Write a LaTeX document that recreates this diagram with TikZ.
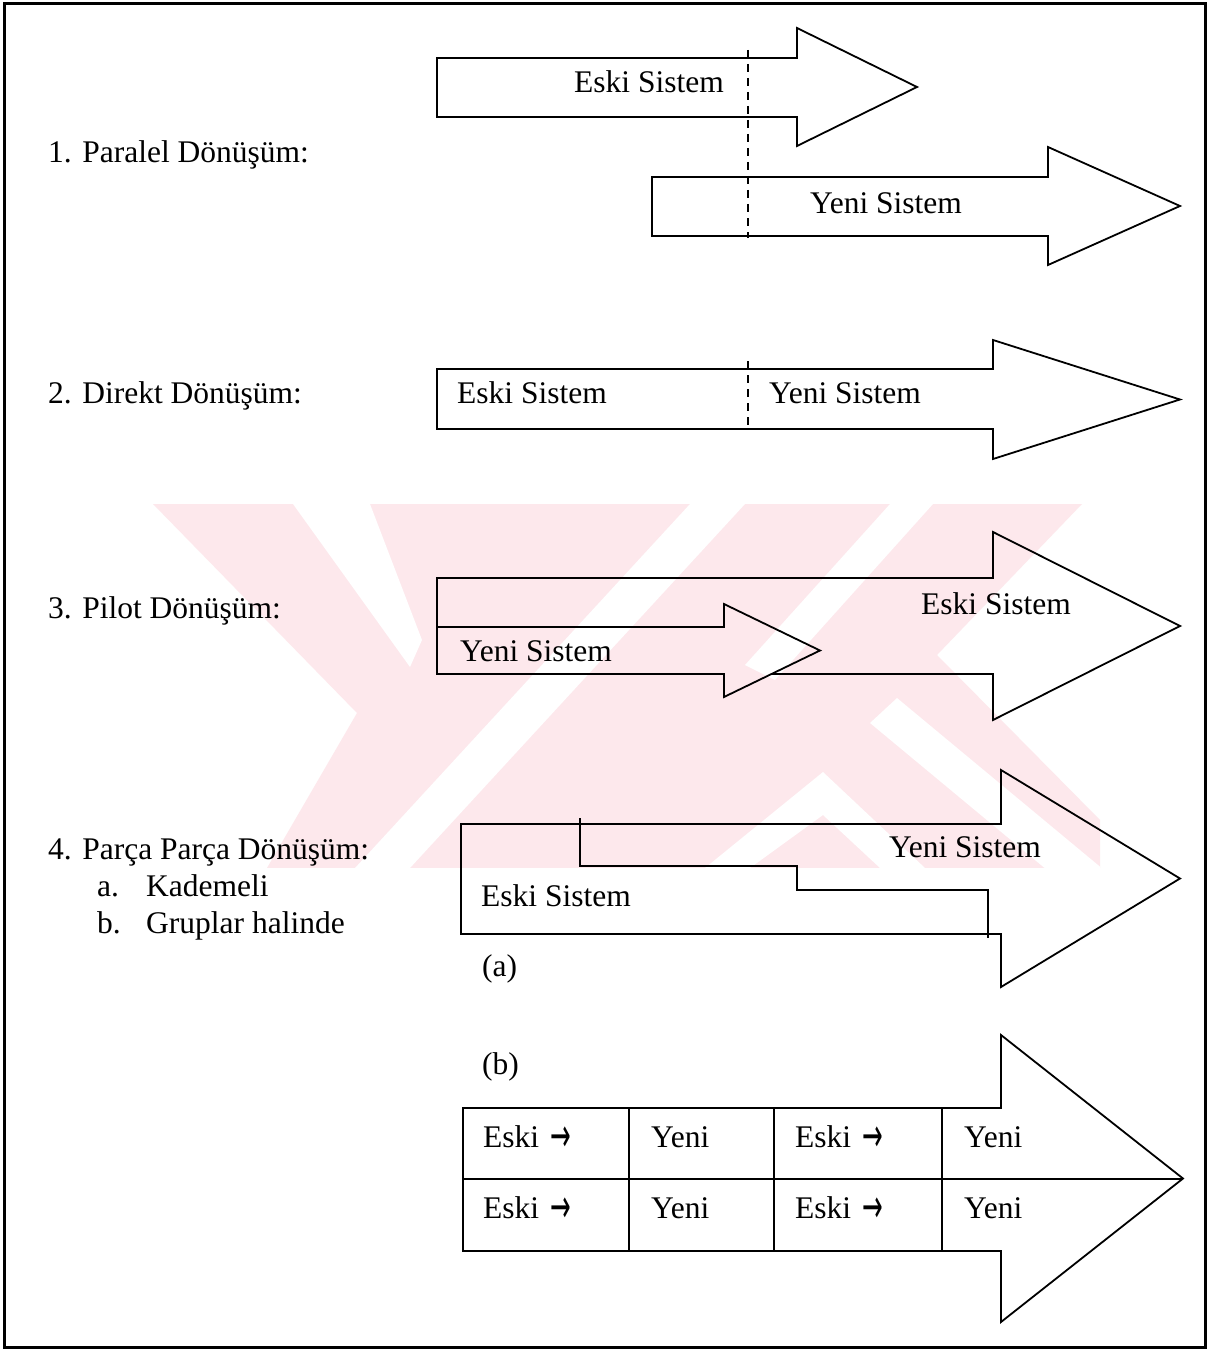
\documentclass[tikz,border=0pt]{standalone}
\usepackage{fontspec}
\usepackage{graphicx}
\setmainfont{Liberation Serif}
\newfontfamily\arrowfont{DejaVu Sans}
\begin{document}
\begin{tikzpicture}[x=1pt,y=-1pt,
  txt/.style={inner sep=0pt, anchor=base west, font=\fontsize{31.5}{36}\selectfont},
  outline/.style={draw=black, line width=1.8pt, line join=miter},
  cut/.style={draw=black, line width=1.8pt, dash pattern=on 8pt off 6pt},
  frameline/.style={draw=black, line width=3pt}]
\definecolor{wmpink}{RGB}{253,232,236}
\newcommand\blockarrow[7]{%
  \draw[outline] (#1,#2) -- (#4,#2) -- (#4,#5) -- (#7,{(#5+#6)/2}) -- (#4,#6) -- (#4,#3) -- (#1,#3) -- cycle;}
\newcommand\arw{\hspace{0.35em}\raisebox{-4.5pt}{\scalebox{0.95}[1.8]{\arrowfont\fontsize{26}{26}\selectfont →}}}

\useasboundingbox (0,0) rectangle (1209,1351);
\fill[white] (0,0) rectangle (1209,1351);

% faint emblem in the background
\begin{scope}
  \clip (153,504) -- (1082,504) -- (937,655) -- (1100,820) -- (1100,868) -- (267,868) -- (357,713) -- cycle;
  \fill[wmpink] (0,504) rectangle (1209,868);
  \fill[white] (293,504) -- (370,504) -- (422,640) -- (410,667) -- cycle;
  \fill[white] (355,868) -- (410,868) -- (745,504) -- (690,504) -- cycle;
  \fill[white] (890,504) -- (933,504) -- (775,680) -- (745,665) -- cycle;
  \fill[white] (897,698) -- (1110,875) -- (1053,875) -- (870,723) -- cycle;
  \fill[white] (705,868) -- (823,772) -- (925,868) -- (880,868) -- (823,815) -- (750,868) -- cycle;
\end{scope}

% outer frame
\draw[frameline] (4,4) rectangle (1205,1347);

% 1. parallel conversion
\node[txt] (l1) at (48,163) {1. Paralel Dönüşüm:};
\blockarrow{437}{58}{117}{797}{28}{146}{917}
\blockarrow{652}{177}{236}{1048}{147}{265}{1180}
\draw[cut] (748,50) -- (748,238);
\node[txt] (p1) at (574,93) {Eski Sistem};
\node[txt] (p2) at (810,213) {Yeni Sistem};

% 2. direct conversion
\node[txt] (l2) at (48,403) {2. Direkt Dönüşüm:};
\blockarrow{437}{369}{429}{993}{340}{459}{1180}
\draw[cut] (748,361) -- (748,429);
\node[txt] (d1) at (457,403) {Eski Sistem};
\node[txt] (d2) at (769,403) {Yeni Sistem};

% 3. pilot conversion
\node[txt] (l3) at (48,618) {3. Pilot Dönüşüm:};
\draw[outline] (771,674) -- (993,674) -- (993,720) -- (1180,626) -- (993,532) -- (993,578)
  -- (437,578) -- (437,674) -- (724,674);
\blockarrow{437}{627}{674}{724}{604}{697}{820}
\node[txt] (s1) at (921,614) {Eski Sistem};
\node[txt] (s2) at (460,661) {Yeni Sistem};

% 4. phased conversion
\node[txt] (l4) at (48,859) {4. Parça Parça Dönüşüm:};
\node[txt] (la) at (97,896) {a.};
\node[txt] (lak) at (146,896) {Kademeli};
\node[txt] (lb) at (97,933) {b.};
\node[txt] (lbg) at (146,933) {Gruplar halinde};

% (a) staged
\blockarrow{461}{824}{934}{1001}{770}{987}{1180}
\draw[outline] (580,818) -- (580,866) -- (797,866) -- (797,890) -- (988,890) -- (988,938);
\node[txt] (k1) at (889,857) {Yeni Sistem};
\node[txt] (k2) at (481,906) {Eski Sistem};
\node[txt] (ka) at (482,976) {(a)};

% (b) in groups
\node[txt] (kb) at (482,1074) {(b)};
\blockarrow{463}{1108}{1251}{1001}{1035}{1322}{1183}
\draw[outline] (463,1179) -- (1183,1179);
\foreach \cx in {629,774,942} \draw[outline] (\cx,1108) -- (\cx,1251);
\node[txt] (g11) at (483,1147) {Eski\arw};
\node[txt] (g12) at (651,1147) {Yeni};
\node[txt] (g13) at (795,1147) {Eski\arw};
\node[txt] (g14) at (964,1147) {Yeni};
\node[txt] (g21) at (483,1218) {Eski\arw};
\node[txt] (g22) at (651,1218) {Yeni};
\node[txt] (g23) at (795,1218) {Eski\arw};
\node[txt] (g24) at (964,1218) {Yeni};
\end{tikzpicture}
\end{document}
